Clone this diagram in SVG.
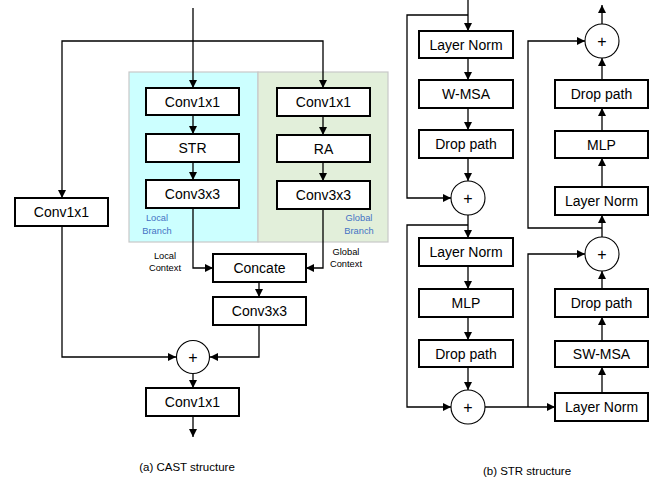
<svg xmlns="http://www.w3.org/2000/svg" width="657" height="481" viewBox="0 0 657 481">
<style>
.box{fill:#fff;stroke:#000;stroke-width:2}
.circ{fill:#fff;stroke:#000;stroke-width:1.1}
.t{font-family:"Liberation Sans",Arial,sans-serif;font-size:14px;text-anchor:middle;fill:#000}
.plus{font-family:"Liberation Sans",Arial,sans-serif;font-size:16px;text-anchor:middle;fill:#000}
.s{font-family:"Liberation Sans",Arial,sans-serif;font-size:9.3px;text-anchor:middle;fill:#000}
.b{font-family:"Liberation Sans",Arial,sans-serif;font-size:9.3px;text-anchor:middle;fill:#4472C4}
.cap{font-family:"Liberation Sans",Arial,sans-serif;font-size:11.5px;text-anchor:middle;fill:#000}
.ln{fill:none;stroke:#000;stroke-width:1.3}
</style>
<defs>
<marker id="ah" markerUnits="userSpaceOnUse" markerWidth="9" markerHeight="9" refX="8" refY="4" orient="auto">
<path d="M0,0 L8,4 L0,8 z" fill="#000"/>
</marker>
</defs>
<rect width="657" height="481" fill="#fff"/>
<g id="regions">
<rect x="129" y="72" width="129" height="170" fill="#CCFFFF" stroke="#C8C8C8" stroke-width="1.2"/>
<rect x="258" y="72" width="130" height="170" fill="#E2EFDA" stroke="#C8C8C8" stroke-width="1.2"/>
<text class="b" x="157" y="221">Local</text>
<text class="b" x="157" y="234">Branch</text>
<text class="b" x="359" y="221">Global</text>
<text class="b" x="359" y="234">Branch</text>
</g>
<g id="connectors">
<path class="ln" d="M193,8 V88" marker-end="url(#ah)"/>
<path class="ln" d="M193,41 H62 V198" marker-end="url(#ah)"/>
<path class="ln" d="M193,41 H323 V88" marker-end="url(#ah)"/>
<path class="ln" d="M193,115 V134" marker-end="url(#ah)"/>
<path class="ln" d="M193,162 V180" marker-end="url(#ah)"/>
<path class="ln" d="M323,116 V135" marker-end="url(#ah)"/>
<path class="ln" d="M323,162 V181" marker-end="url(#ah)"/>
<path class="ln" d="M193,208 V268 H213" marker-end="url(#ah)"/>
<path class="ln" d="M323,209 V268 H306" marker-end="url(#ah)"/>
<path class="ln" d="M259,282 V297" marker-end="url(#ah)"/>
<path class="ln" d="M62,226 V357 H176" marker-end="url(#ah)"/>
<path class="ln" d="M259,325 V357 H210" marker-end="url(#ah)"/>
<path class="ln" d="M193,374 V388" marker-end="url(#ah)"/>
<path class="ln" d="M193,416 V437" marker-end="url(#ah)"/>
<path class="ln" d="M468,0 V31" marker-end="url(#ah)"/>
<path class="ln" d="M468,15 H407 V198 H451" marker-end="url(#ah)"/>
<path class="ln" d="M468,58 V80" marker-end="url(#ah)"/>
<path class="ln" d="M468,108 V130" marker-end="url(#ah)"/>
<path class="ln" d="M468,158 V181" marker-end="url(#ah)"/>
<path class="ln" d="M468,215 V238" marker-end="url(#ah)"/>
<path class="ln" d="M468,225 H407 V407 H451" marker-end="url(#ah)"/>
<path class="ln" d="M468,266 V289" marker-end="url(#ah)"/>
<path class="ln" d="M468,317 V340" marker-end="url(#ah)"/>
<path class="ln" d="M468,367 V390" marker-end="url(#ah)"/>
<path class="ln" d="M485,407 H555" marker-end="url(#ah)"/>
<path class="ln" d="M528,407 V254 H585" marker-end="url(#ah)"/>
<path class="ln" d="M602,393 V367" marker-end="url(#ah)"/>
<path class="ln" d="M602,341 V317" marker-end="url(#ah)"/>
<path class="ln" d="M602,289 V271" marker-end="url(#ah)"/>
<path class="ln" d="M602,237 V215" marker-end="url(#ah)"/>
<path class="ln" d="M602,228 H528 V41 H585" marker-end="url(#ah)"/>
<path class="ln" d="M602,187 V158" marker-end="url(#ah)"/>
<path class="ln" d="M602,131 V108" marker-end="url(#ah)"/>
<path class="ln" d="M602,80 V58" marker-end="url(#ah)"/>
<path class="ln" d="M602,24 V5" marker-end="url(#ah)"/>
</g>
<g id="l-conv1">
<rect class="box" x="146" y="88" width="93" height="27"/>
<text class="t" x="192.5" y="106.5">Conv1x1</text>
</g>
<g id="l-str">
<rect class="box" x="146" y="134" width="93" height="28"/>
<text class="t" x="192.5" y="153">STR</text>
</g>
<g id="l-conv3">
<rect class="box" x="146" y="180" width="93" height="28"/>
<text class="t" x="192.5" y="199">Conv3x3</text>
</g>
<g id="g-conv1">
<rect class="box" x="277" y="88" width="93" height="28"/>
<text class="t" x="323.5" y="107">Conv1x1</text>
</g>
<g id="g-ra">
<rect class="box" x="277" y="135" width="93" height="27"/>
<text class="t" x="323.5" y="153.5">RA</text>
</g>
<g id="g-conv3">
<rect class="box" x="277" y="181" width="93" height="28"/>
<text class="t" x="323.5" y="200">Conv3x3</text>
</g>
<g id="left-conv1">
<rect class="box" x="15" y="198" width="93" height="28"/>
<text class="t" x="61.5" y="217">Conv1x1</text>
</g>
<g id="labels-context">
<text class="s" x="165" y="259">Local</text>
<text class="s" x="165" y="271">Context</text>
<text class="s" x="346" y="255">Global</text>
<text class="s" x="346" y="267">Context</text>
</g>
<g id="concate">
<rect class="box" x="213" y="254" width="93" height="28"/>
<text class="t" x="259.5" y="273">Concate</text>
</g>
<g id="conv3-out">
<rect class="box" x="213" y="297" width="93" height="28"/>
<text class="t" x="259.5" y="316">Conv3x3</text>
</g>
<g id="plus-a">
<circle class="circ" cx="193" cy="357" r="16.5"/>
<text class="plus" x="193" y="362.5">+</text>
</g>
<g id="conv1-out">
<rect class="box" x="146" y="388" width="93" height="28"/>
<text class="t" x="192.5" y="407">Conv1x1</text>
</g>
<text class="cap" x="187" y="471">(a)  CAST structure</text>
<g id="ln1">
<rect class="box" x="419" y="31" width="94" height="27"/>
<text class="t" x="466" y="49.5">Layer Norm</text>
</g>
<g id="wmsa">
<rect class="box" x="419" y="80" width="94" height="28"/>
<text class="t" x="466" y="99">W-MSA</text>
</g>
<g id="dp1">
<rect class="box" x="419" y="130" width="94" height="28"/>
<text class="t" x="466" y="149">Drop path</text>
</g>
<g id="plus1">
<circle class="circ" cx="468" cy="198" r="17"/>
<text class="plus" x="468" y="203.5">+</text>
</g>
<g id="ln2">
<rect class="box" x="419" y="238" width="94" height="28"/>
<text class="t" x="466" y="257">Layer Norm</text>
</g>
<g id="mlp1">
<rect class="box" x="419" y="289" width="94" height="28"/>
<text class="t" x="466" y="308">MLP</text>
</g>
<g id="dp2">
<rect class="box" x="419" y="340" width="94" height="27"/>
<text class="t" x="466" y="358.5">Drop path</text>
</g>
<g id="plus2">
<circle class="circ" cx="468" cy="407" r="17"/>
<text class="plus" x="468" y="412.5">+</text>
</g>
<g id="ln3">
<rect class="box" x="555" y="393" width="93" height="28"/>
<text class="t" x="601.5" y="412">Layer Norm</text>
</g>
<g id="swmsa">
<rect class="box" x="555" y="341" width="93" height="26"/>
<text class="t" x="601.5" y="359">SW-MSA</text>
</g>
<g id="dp3">
<rect class="box" x="555" y="289" width="93" height="28"/>
<text class="t" x="601.5" y="308">Drop path</text>
</g>
<g id="plus3">
<circle class="circ" cx="602" cy="254" r="17"/>
<text class="plus" x="602" y="259.5">+</text>
</g>
<g id="ln4">
<rect class="box" x="555" y="187" width="93" height="28"/>
<text class="t" x="601.5" y="206">Layer Norm</text>
</g>
<g id="mlp2">
<rect class="box" x="555" y="131" width="93" height="27"/>
<text class="t" x="601.5" y="149.5">MLP</text>
</g>
<g id="dp4">
<rect class="box" x="555" y="80" width="93" height="28"/>
<text class="t" x="601.5" y="99">Drop path</text>
</g>
<g id="plus4">
<circle class="circ" cx="602" cy="41" r="17"/>
<text class="plus" x="602" y="46.5">+</text>
</g>
<text class="cap" x="527" y="475">(b) STR structure</text>
</svg>
